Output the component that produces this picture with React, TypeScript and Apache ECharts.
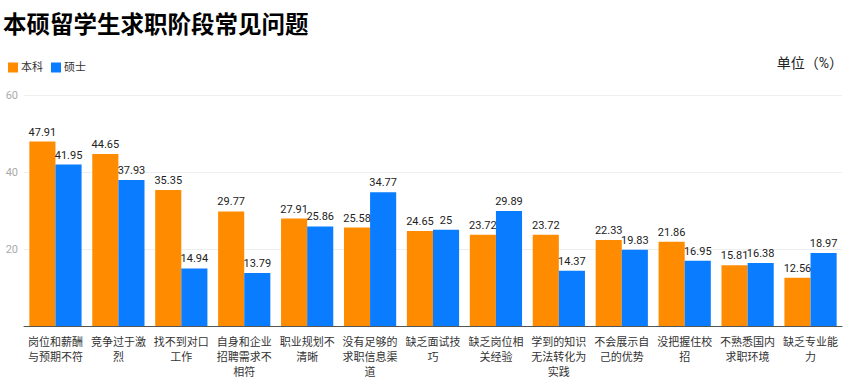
import React, { useEffect, useRef } from "react";
import * as echarts from "echarts";

const categories = [
  "岗位和薪酬与预期不符",
  "竞争过于激烈",
  "找不到对口工作",
  "自身和企业招聘需求不相符",
  "职业规划不清晰",
  "没有足够的求职信息渠道",
  "缺乏面试技巧",
  "缺乏岗位相关经验",
  "学到的知识无法转化为实践",
  "不会展示自己的优势",
  "没把握住校招",
  "不熟悉国内求职环境",
  "缺乏专业能力",
];
const bachelor = [47.91, 44.65, 35.35, 29.77, 27.91, 25.58, 24.65, 23.72, 23.72, 22.33, 21.86, 15.81, 12.56];
const master = [41.95, 37.93, 14.94, 13.79, 25.86, 34.77, 25, 29.89, 14.37, 19.83, 16.95, 16.38, 18.97];

export default function App() {
  const ref = useRef<HTMLDivElement>(null);
  useEffect(() => {
    document.body.style.margin = "0";
    if (!ref.current) return;
    const chart = echarts.init(ref.current, null, { renderer: "svg" });
    const font = "Roboto, 'Noto Sans CJK SC', sans-serif";
    chart.setOption({
      animation: false,
      textStyle: { fontFamily: font },
      title: {
        text: "本硕留学生求职阶段常见问题",
        left: -2,
        top: 8,
        textStyle: { fontSize: 23.5, fontWeight: "bold", color: "#000", fontFamily: font },
      },
      legend: {
        left: 3,
        top: 62,
        padding: [0, 5],
        itemWidth: 10,
        itemHeight: 10,
        itemGap: 8,
        icon: "rect",
        textStyle: { fontSize: 11, color: "#333", padding: [0, 0, 0, -2] },
        data: ["本科", "硕士"],
      },
      graphic: [
        {
          type: "text",
          right: 11,
          top: 56,
          style: { text: "单位（%）", fontSize: 14, fill: "#222", fontFamily: font },
        },
      ],
      grid: { left: 24, right: 12, top: 95, bottom: 58 },
      xAxis: {
        type: "category",
        data: categories,
        axisTick: { show: false },
        axisLine: { lineStyle: { color: "#555" } },
        axisLabel: {
          interval: 0,
          fontSize: 11,
          color: "#333",
          lineHeight: 15,
          margin: 9,
          formatter: (v: string) => {
            const parts: string[] = [];
            for (let i = 0; i < v.length; i += 5) parts.push(v.slice(i, i + 5));
            return parts.join("\n");
          },
        },
      },
      yAxis: {
        type: "value",
        min: 0,
        max: 60,
        interval: 20,
        axisLine: { show: false },
        axisTick: { show: false },
        splitLine: { lineStyle: { color: "#eeeeee" } },
        axisLabel: {
          fontSize: 11,
          color: "#aaaaaa",
          margin: 6,
          formatter: (v: number) => (v === 0 ? "" : String(v)),
        },
      },
      series: [
        {
          name: "本科",
          type: "bar",
          data: bachelor,
          itemStyle: { color: "#FF8C00" },
          barGap: "0%",
          barCategoryGap: "17%",
          label: { show: true, position: "top", fontSize: 11, color: "#222", distance: 4 },
        },
        {
          name: "硕士",
          type: "bar",
          data: master,
          itemStyle: { color: "#0A7CFF" },
          barGap: "0%",
          barCategoryGap: "17%",
          label: { show: true, position: "top", fontSize: 11, color: "#222", distance: 4 },
        },
      ],
    });
    return () => chart.dispose();
  }, []);
  return <div ref={ref} style={{ width: 854, height: 384 }} />;
}
